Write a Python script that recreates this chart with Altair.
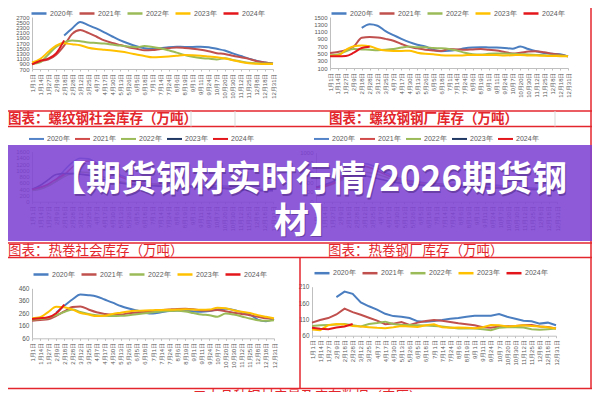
import altair as alt
import pandas as pd

N = None
dates = ["1月1日", "1月14日", "1月27日", "2月9日", "2月18日", "2月28日", "3月12日", "3月25日",
         "4月7日", "4月17日", "4月30日", "5月13日", "5月26日", "6月5日", "6月18日", "7月1日",
         "7月14日", "7月24日", "8月6日", "8月19日", "9月1日", "9月11日", "9月24日", "10月7日",
         "10月20日", "10月30日", "11月12日", "11月25日", "12月8日", "12月18日", "12月31日"]
years = ["2020年", "2021年", "2022年", "2023年", "2024年"]

# 螺纹钢社会库存
p1_2020 = [N, N, N, N, 1990, 2260, 2510, 2390, 2260, 2110, 1950, 1800, 1680, 1575, 1500, 1475, 1500, 1540, 1560, 1550, 1550, 1560, 1540, 1475, 1410, 1300, 1200, 1100, 1010, 950, 900]
p1_2021 = [890, 1000, 1060, 1250, 1600, 2050, 2200, 2090, 1950, 1800, 1700, 1620, 1540, 1480, 1420, 1430, 1470, 1500, 1530, 1510, 1480, 1440, 1380, 1310, 1280, 1210, 1150, 1090, 1000, 950, 910]
p1_2022 = [900, 960, 1250, 1550, 1730, 1800, 1770, 1720, 1700, 1680, 1640, 1600, 1570, 1540, 1580, 1550, 1500, 1420, 1330, 1240, 1170, 1120, 1100, 1070, 1110, 1050, 990, 940, 920, 910, 910]
p1_2023 = [950, 1080, 1350, 1600, 1690, 1650, 1610, 1520, 1470, 1440, 1410, 1370, 1320, 1260, 1200, 1150, 1160, 1180, 1210, 1240, 1230, 1210, 1180, 1150, 1100, 1040, 970, 920, 900, 890, 890]
p1_2024 = [880, 1010, 1100, 1300, 1800]

# 螺纹钢钢厂库存
p2_2020 = [N, N, N, N, 1200, 1300, 1260, 1110, 1000, 900, 810, 740, 690, 600, 560, 570, 600, 640, 660, 670, 665, 660, 650, 630, 690, 620, 560, 510, 490, 480, 420]
p2_2021 = [510, 540, 590, 690, 930, 950, 940, 900, 850, 760, 680, 640, 600, 580, 570, 620, 610, 600, 610, 620, 600, 580, 540, 500, 520, 550, 560, 530, 490, 460, 420]
p2_2022 = [450, 470, 560, 620, 610, 600, 590, 600, 620, 660, 690, 670, 670, 650, 640, 620, 580, 520, 480, 470, 490, 500, 500, 490, 480, 470, 460, 450, 440, 440, 420]
p2_2023 = [430, 440, 600, 700, 720, 700, 620, 580, 570, 570, 575, 520, 490, 480, 450, 440, 440, 450, 460, 460, 460, 455, 445, 450, 460, 445, 440, 435, 430, 425, 420]
p2_2024 = [420, 420, 430, 520, 650, 680]

# 热卷社会库存 (under banner)
p3_2020 = [N, N, N, 700, 1000, 1250, 1390, 1370, 1250, 1100, 950, 850, 750, 650, 580, 560, 540, 540, 530, 520, 520, 520, 510, 510, 500, 480, 450, 420, 400, 380, 370]
p3_2021 = [380, 430, 520, 650, 850, 1100, 1280, 1300, 1200, 1050, 900, 800, 700, 620, 580, 560, 560, 550, 540, 520, 500, 480, 470, 460, 450, 440, 430, 410, 400, 380, 370]
p3_2022 = [360, 400, 500, 650, 800, 900, 950, 930, 850, 780, 700, 640, 600, 580, 560, 550, 540, 520, 500, 490, 480, 470, 460, 450, 440, 420, 400, 390, 380, 370, 360]
p3_2023 = [400, 520, 700, 870, 900, 900, 880, 850, 780, 700, 650, 600, 560, 540, 520, 510, 500, 500, 490, 480, 470, 460, 450, 440, 420, 400, 380, 370, 360, 350, 350]
p3_2024 = [390, 460, 560, 720, 880]

# 热卷钢厂库存 (under banner)
p4_2020 = [N, N, N, 500, 650, 760, 780, 740, 650, 570, 500, 450, 420, 400, 380, 370, 360, 360, 350, 350, 350, 340, 340, 330, 320, 300, 290, 280, 270, 260, 250]
p4_2021 = [300, 320, 380, 480, 600, 700, 720, 680, 600, 530, 470, 420, 400, 380, 370, 360, 350, 340, 330, 330, 320, 310, 300, 300, 290, 280, 270, 260, 260, 250, 240]
p4_2022 = [280, 300, 350, 420, 500, 560, 600, 580, 540, 480, 430, 400, 380, 360, 350, 340, 330, 320, 310, 300, 300, 290, 290, 280, 280, 270, 260, 250, 250, 240, 240]
p4_2023 = [300, 340, 400, 480, 520, 540, 530, 500, 460, 420, 390, 370, 350, 340, 330, 320, 320, 310, 300, 300, 290, 290, 280, 280, 270, 260, 260, 250, 250, 240, 240]
p4_2024 = [290, 310, 360, 450, 540]

# bottom-left
p5_2020 = [N, N, N, 265, 320, 370, 410, 405, 395, 370, 345, 318, 298, 282, 265, 258, 268, 278, 283, 283, 275, 272, 278, 290, 296, 287, 268, 250, 210, 196, 215]
p5_2021 = [200, 207, 212, 240, 275, 310, 315, 290, 268, 255, 248, 250, 260, 265, 270, 278, 285, 290, 295, 296, 292, 283, 282, 286, 276, 265, 255, 245, 232, 220, 215]
p5_2022 = [210, 215, 225, 245, 270, 290, 270, 255, 245, 240, 238, 240, 245, 252, 260, 268, 275, 278, 280, 275, 262, 250, 245, 232, 258, 250, 235, 218, 205, 200, 205]
p5_2023 = [220, 228, 270, 312, 308, 290, 262, 250, 238, 240, 255, 265, 275, 280, 283, 285, 287, 288, 290, 292, 290, 288, 290, 305, 300, 285, 272, 262, 245, 232, 220]
p5_2024 = [215, 220, 228, 260, 330]

# bottom-right
p6_2020 = [N, N, N, 178, 195, 188, 162, 150, 140, 127, 120, 118, 114, 104, 103, 105, 108, 112, 114, 118, 121, 121, 121, 126, 118, 112, 106, 104, 97, 100, 92]
p6_2021 = [100, 108, 114, 125, 143, 132, 124, 115, 106, 95, 97, 102, 93, 100, 105, 108, 106, 102, 98, 95, 92, 86, 84, 88, 89, 90, 92, 93, 88, 87, 82]
p6_2022 = [90, 92, 93, 94, 96, 92, 88, 96, 99, 103, 96, 93, 93, 92, 91, 90, 88, 85, 82, 82, 82, 80, 77, 84, 86, 86, 85, 80, 78, 80, 82]
p6_2023 = [79, 77, 92, 96, 94, 90, 88, 86, 84, 83, 86, 90, 88, 87, 92, 95, 86, 84, 85, 84, 83, 86, 93, 92, 88, 90, 92, 90, 88, 86, 82]
p6_2024 = [84, 81, 80, 85, 88, 96]

colors_main = ["#4A7EC0", "#C0504D", "#9BBB59", "#FFC000", "#E3161B"]
colors_mid = ["#5282C8", "#D24B4B", "#9BBB59", "#203864", "#E3161B"]

titles_top = ["图表：螺纹钢社会库存（万吨）", "图表：螺纹钢钢厂库存（万吨）"]
titles_mid = ["图表：热卷社会库存（万吨）", "图表：热卷钢厂库存（万吨）"]
title_bottom = "五大品种钢材产量及库存数据（农历）"
banner_lines = ["【期货钢材实时行情/2026期货钢", "材】"]

W, H = 584, 384
RED = "#E3262C"
GRAY = "#595959"
CJK = "Noto Sans CJK SC"
LAT = "Liberation Sans"


def X(r):
    return r - 8


def Y(r):
    return r - 8


label_expr = "[" + ",".join("'%s'" % d for d in dates) + "][datum.value]"


def panel(series, colors, x0, x1, ybot, ytop, ydom, yvals, leg_x, leg_cy,
          lw=2.0, ylab=6, interp="monotone", leg_sw=2.5):
    rows = []
    for yr, vals in zip(years, series):
        for i, v in enumerate(vals):
            if v is not None:
                rows.append({"idx": i, "value": v, "year": yr})
    df = pd.DataFrame(rows)
    return alt.Chart(df).mark_line(strokeWidth=lw, interpolate=interp).encode(
        x=alt.X("idx:Q", title=None,
                scale=alt.Scale(domain=[0, 30], range=[X(x0), X(x1)], nice=False, zero=False),
                axis=alt.Axis(orient="bottom", offset=Y(ybot) - H, values=list(range(31)),
                              labelExpr=label_expr, labelAngle=270, labelFontSize=6, labelFont=LAT,
                              labelColor=GRAY, labelOverlap=False, labelFlush=False, labelPadding=2,
                              grid=False, domainColor="#BFBFBF", tickColor="#BFBFBF", tickSize=2)),
        y=alt.Y("value:Q", title=None,
                scale=alt.Scale(domain=ydom, range=[Y(ybot), Y(ytop)], nice=False, zero=False),
                axis=alt.Axis(orient="left", offset=-X(x0), values=yvals, format="d",
                              labelFontSize=ylab, labelFont=LAT, labelColor=GRAY,
                              labelOverlap=False, labelFlush=False, labelPadding=3, grid=False,
                              ticks=False, domainColor="#BFBFBF")),
        color=alt.Color("year:N", title=None,
                        scale=alt.Scale(domain=years, range=colors),
                        legend=alt.Legend(orient="none", legendX=X(leg_x), legendY=Y(leg_cy) - 7.5,
                                          direction="horizontal", columns=5, symbolType="stroke",
                                          symbolSize=225, symbolStrokeWidth=leg_sw, labelFontSize=7,
                                          labelFont=LAT, labelColor=GRAY, columnPadding=1,
                                          labelOffset=2, padding=0)),
    )


one = pd.DataFrame({"k": [0]})


def hrule(y, x1=0, x2=W, color=RED, w=1.5):
    return alt.Chart(one).mark_rule(color=color, strokeWidth=w).encode(
        x=alt.value(x1), x2=alt.value(x2), y=alt.value(y))


def vrule(x, y1, y2, color=RED, w=1.5):
    return alt.Chart(one).mark_rule(color=color, strokeWidth=w).encode(
        x=alt.value(x), y=alt.value(y1), y2=alt.value(y2))


def label(txt, x, y, size=13.5, color=RED, weight="normal", align="left", baseline="middle", opacity=1):
    return alt.Chart(one).mark_text(text=txt, font=CJK, fontSize=size, color=color,
                                    fontWeight=weight, align=align, baseline=baseline,
                                    opacity=opacity).encode(x=alt.value(x), y=alt.value(y))


panels = [
    panel([p1_2020, p1_2021, p1_2022, p1_2023, p1_2024], colors_main, 32, 273, 69, 17,
          [700, 2700], list(range(700, 2701, 200)), 30, 12),
    panel([p2_2020, p2_2021, p2_2022, p2_2023, p2_2024], colors_main, 330, 568, 68, 17,
          [100, 1500], list(range(100, 1501, 200)), 330, 12),
    panel([p3_2020, p3_2021, p3_2022, p3_2023, p3_2024], colors_mid, 32, 273, 201.7, 151.7,
          [0, 1600], list(range(0, 1601, 200)), 28, 137.7, lw=1.6, leg_sw=2),
    panel([p4_2020, p4_2021, p4_2022, p4_2023, p4_2024], colors_mid, 316, 557, 201.7, 152.7,
          [0, 1000], list(range(0, 1001, 200)), 313, 137.7, lw=1.6, leg_sw=2),
    panel([p5_2020, p5_2021, p5_2022, p5_2023, p5_2024], colors_main, 32, 274, 338.3, 288.3,
          [60, 460], list(range(60, 461, 100)), 32, 273, ylab=6.5),
    panel([p6_2020, p6_2021, p6_2022, p6_2023, p6_2024], colors_main, 312, 556, 335.7, 286.7,
          [60, 210], list(range(60, 211, 50)), 313, 271.7, ylab=6.5, interp="linear"),
]

decor = [
    hrule(Y(111)), hrule(Y(126.5)), hrule(Y(243)), hrule(Y(257.5)), hrule(380.5),
    vrule(W - 1, 0, 381), vrule(X(300), Y(257.5), 380.5),
    vrule(X(191), Y(111), Y(126.5), color="#D9D9D9", w=1),
    vrule(X(235), Y(111), Y(126.5), color="#D9D9D9", w=1),
    vrule(X(555), Y(111), Y(126.5), color="#D9D9D9", w=1),
    label(titles_top[0], 0, Y(118.5), weight="bold"),
    label(titles_top[1], X(329), Y(118.5), weight="bold"),
    label(titles_mid[0], 0, Y(250.5)),
    label(titles_mid[1], X(328), Y(250.5)),
    label(title_bottom, X(193), 382, baseline="top"),
]

banner = [
    alt.Chart(one).mark_rect(color="#7D41D2", opacity=0.87).encode(
        x=alt.value(0), x2=alt.value(W), y=alt.value(Y(145)), y2=alt.value(Y(241))),
    label(banner_lines[0], X(309) + 1, Y(180) + 1.5, size=35, color="#2a1050", weight="bold",
          align="center", opacity=0.35),
    label(banner_lines[1], X(309) + 1, Y(221.5) + 1.5, size=35, color="#2a1050", weight="bold",
          align="center", opacity=0.35),
    label(banner_lines[0], X(309), Y(180), size=35, color="white", weight="bold", align="center"),
    label(banner_lines[1], X(309), Y(221.5), size=35, color="white", weight="bold", align="center"),
]

chart = alt.layer(*panels, *decor, *banner).resolve_scale(
    x="independent", y="independent", color="independent"
).properties(
    width=W, height=H, autosize=alt.AutoSizeParams(type="none"), padding=0, background="white"
).configure_view(strokeWidth=0)

chart.save("out.html", embed_options={"renderer": "svg", "actions": False})
